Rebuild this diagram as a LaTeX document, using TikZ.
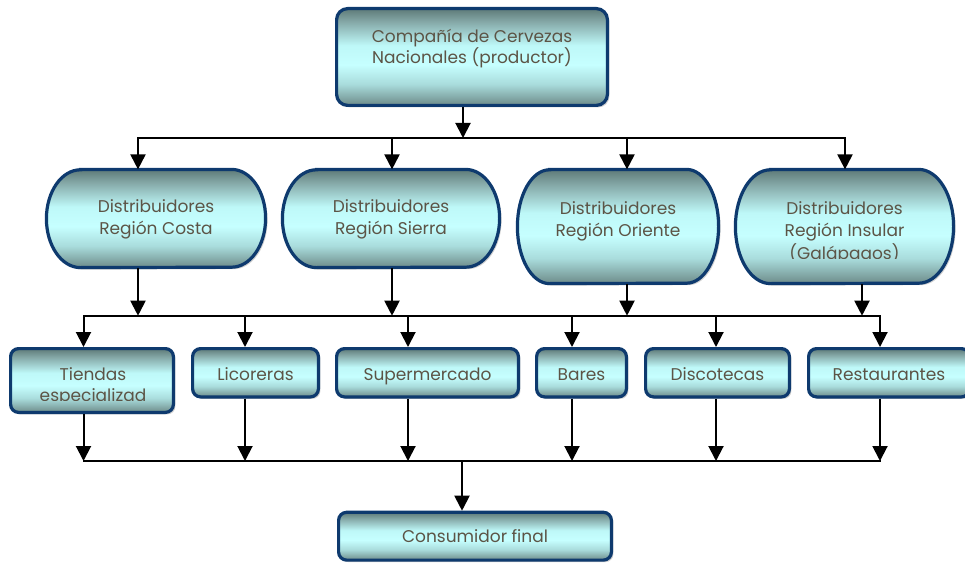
\documentclass[tikz,border=0pt]{standalone}
\usepackage{fontspec}
\setmainfont{Poppins}
\usetikzlibrary{arrows.meta,shadows}
\definecolor{navy}{RGB}{14,58,110}
\definecolor{txtc}{RGB}{92,84,70}
\definecolor{sA}{RGB}{94,122,120}
\definecolor{sB}{RGB}{134,170,169}
\definecolor{sC}{RGB}{198,255,255}
\definecolor{sC2}{RGB}{190,248,248}
\definecolor{sD}{RGB}{169,220,220}
\definecolor{sE}{RGB}{109,139,137}
\pgfdeclareverticalshading{boxshade}{100bp}{color(0bp)=(sE); color(25bp)=(sE); color(36bp)=(sD); color(46bp)=(sC); color(56bp)=(sC2); color(68bp)=(sB); color(75bp)=(sA); color(100bp)=(sA)}
\newcommand{\termshape}[3]{%
  \path[boxstyle] ([xshift=#2]#1.north west) -- ([xshift=-#2]#1.north east)
    arc[start angle=90, end angle=-90, x radius=#2, y radius=#3]
    -- ([xshift=#2]#1.south west)
    arc[start angle=270, end angle=90, x radius=#2, y radius=#3] -- cycle;}
\tikzset{
  boxstyle/.style={draw=navy, line width=3.2pt, shade, shading=boxshade,
    drop shadow={shadow xshift=2pt, shadow yshift=-2pt, opacity=0.3, fill=black!60}},
  rbox/.style={boxstyle, rectangle, rounded corners=8pt, inner sep=0pt,
    font=\fontsize{17}{21.7}\selectfont, text=txtc, text height=14.5pt, text depth=0pt},
  geo/.style={rectangle, inner sep=0pt, draw=none},
  txt/.style={anchor=base, inner sep=0pt, font=\fontsize{17}{21.7}\selectfont, text=txtc},
  arr/.style={line width=2pt, -{Triangle[width=15pt,length=15pt]}},
  bus/.style={line width=2pt, line cap=rect}
}
\begin{document}
\begin{tikzpicture}[x=1pt,y=1pt]
\useasboundingbox (0,0) rectangle (965,566);
% producer
\node[rbox, rounded corners=11pt, minimum width=270.8pt, minimum height=96.8pt] (top) at (472,509) {};
\node[txt] (top-t1) at (472,523.7) {Compañía de Cervezas};
\node[txt] (top-t2) at (472,502) {Nacionales (productor)};
% distributors
\node[geo, minimum width=218.8pt, minimum height=97.8pt] (costa) at (156,347.5) {};
\node[geo, minimum width=216.8pt, minimum height=97.8pt] (sierra) at (391,347.5) {};
\node[geo, minimum width=200.8pt, minimum height=113.8pt] (oriente) at (618,339.5) {};
\node[geo, minimum width=217.8pt, minimum height=113.8pt] (insular) at (844.5,339.5) {};
\termshape{costa}{34pt}{48.9pt}
\termshape{sierra}{34pt}{48.9pt}
\termshape{oriente}{32pt}{56.9pt}
\termshape{insular}{35pt}{56.9pt}
\node[txt] (costa-t1) at (156,353.3) {Distribuidores};
\node[txt] (costa-t2) at (156,332) {Región Costa};
\node[txt] (sierra-t1) at (391,353.3) {Distribuidores};
\node[txt] (sierra-t2) at (391,332) {Región Sierra};
\node[txt] (oriente-t1) at (618,352) {Distribuidores};
\node[txt] (oriente-t2) at (618,329.3) {Región Oriente};
\node[txt] (insular-t1) at (844.5,352) {Distribuidores};
\node[txt] (insular-t2) at (844.5,329.3) {Región Insular};
\begin{scope}
  \clip (720,307.8) rectangle (965,330);
  \node[txt] (insular-t3) at (844.5,307) {(Galápagos)};
\end{scope}
% retail
\node[rbox, minimum width=162.8pt, minimum height=63.8pt] (tiendas) at (92,185.5) {};
\node[txt] (tiendas-t1) at (93,186) {Tiendas};
\begin{scope}
  \clip (0,165.2) rectangle (180,180);
  \node[txt] (tiendas-t2) at (93,164.3) {especializad};
\end{scope}
\node[rbox, minimum width=125.8pt, minimum height=48.3pt] (licoreras) at (255.5,193.25) {Licoreras};
\node[rbox, minimum width=181.8pt, minimum height=48.3pt] (super) at (427.5,193.25) {Supermercado};
\node[rbox, minimum width=89.8pt, minimum height=48.3pt] (bares) at (581.5,193.25) {Bares};
\node[rbox, minimum width=143.8pt, minimum height=48.3pt] (disco) at (717.5,193.25) {Discotecas};
\node[rbox, minimum width=160.8pt, minimum height=48.3pt] (rest) at (889,193.25) {Restaurantes};
% consumer
\node[rbox, minimum width=272.8pt, minimum height=47.8pt, text height=13pt] (cons) at (475,29.8) {Consumidor final};
% bus 1
\coordinate (b1m) at (463,428);
\coordinate (b1a) at (138,428);
\coordinate (b1b) at (392,428);
\coordinate (b1c) at (627,428);
\coordinate (b1d) at (845,428);
\draw[bus] (b1a) -- (b1d);
\draw[arr] (top.south -| b1m) -- (b1m);
\draw[arr] (b1a) -- (b1a |- costa.north);
\draw[arr] (b1b) -- (b1b |- sierra.north);
\draw[arr] (b1c) -- (b1c |- oriente.north);
\draw[arr] (b1d) -- (b1d |- insular.north);
% bus 2
\coordinate (b2a) at (83.5,250.3);
\coordinate (b2b) at (245,250.3);
\coordinate (b2c) at (408,250.3);
\coordinate (b2d) at (572,250.3);
\coordinate (b2e) at (716,250.3);
\coordinate (b2f) at (880,250.3);
\coordinate (b2p) at (138,250.3);
\coordinate (b2q) at (392,250.3);
\coordinate (b2r) at (627,250.3);
\coordinate (b2s) at (862,250.3);
\draw[bus] (b2a) -- (b2f);
\draw[arr] (costa.south -| b2p) -- (b2p);
\draw[arr] (sierra.south -| b2q) -- (b2q);
\draw[arr] (oriente.south -| b2r) -- (b2r);
\draw[arr] (insular.south -| b2s) -- (b2s);
\draw[arr] (b2a) -- (b2a |- tiendas.north);
\draw[arr] (b2b) -- (b2b |- licoreras.north);
\draw[arr] (b2c) -- (b2c |- super.north);
\draw[arr] (b2d) -- (b2d |- bares.north);
\draw[arr] (b2e) -- (b2e |- disco.north);
\draw[arr] (b2f) -- (b2f |- rest.north);
% bus 3
\coordinate (b3a) at (83.5,105);
\coordinate (b3b) at (245,105);
\coordinate (b3c) at (408,105);
\coordinate (b3d) at (572,105);
\coordinate (b3e) at (716,105);
\coordinate (b3f) at (880,105);
\coordinate (b3m) at (462,105);
\draw[bus] (b3a) -- (b3f);
\draw[arr] (tiendas.south -| b3a) -- (b3a);
\draw[arr] (licoreras.south -| b3b) -- (b3b);
\draw[arr] (super.south -| b3c) -- (b3c);
\draw[arr] (bares.south -| b3d) -- (b3d);
\draw[arr] (disco.south -| b3e) -- (b3e);
\draw[arr] (rest.south -| b3f) -- (b3f);
\draw[arr] (b3m) -- (b3m |- cons.north);
\end{tikzpicture}
\end{document}
